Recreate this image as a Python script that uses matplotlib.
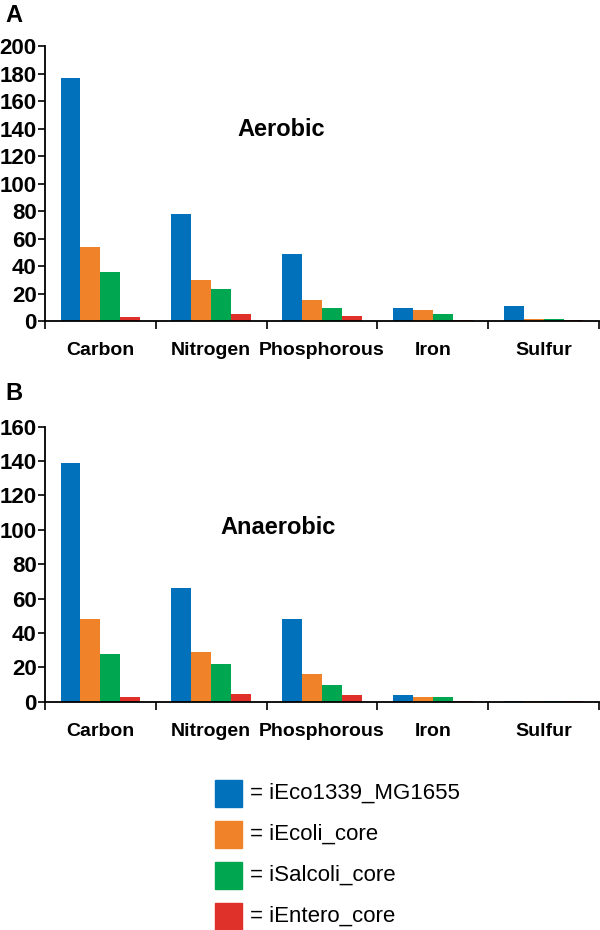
import numpy as np
import matplotlib
matplotlib.use("Agg")
import matplotlib.pyplot as plt
from matplotlib.patches import Rectangle

plt.rcParams["font.family"] = ["Liberation Sans", "DejaVu Sans"]

# ========= DATA =========
categories = ["Carbon", "Nitrogen", "Phosphorous", "Iron", "Sulfur"]
models = ["iEco1339_MG1655", "iEcoli_core", "iSalcoli_core", "iEntero_core"]
colors = ["#0071BA", "#F0832A", "#00A650", "#E0302A"]

# Aerobic (panel A)
aer_eco1339 = [177, 78, 48.5, 9.7, 10.7]
aer_ecoli = [54, 30, 15.3, 7.8, 1.6]
aer_salcoli = [35.6, 23, 9.7, 4.8, 1.5]
aer_entero = [2.8, 4.8, 3.9, 0.7, 0.7]

# Anaerobic (panel B)
ana_eco1339 = [139, 66, 48, 3.7, 0.5]
ana_ecoli = [48, 28.7, 16.1, 2.9, 0.5]
ana_salcoli = [28, 21.8, 9.9, 2.9, 0.5]
ana_entero = [2.9, 4.7, 3.7, 0.5, 0.5]

panels = [
    ("A", "Aerobic", [aer_eco1339, aer_ecoli, aer_salcoli, aer_entero], 200, 20),
    ("B", "Anaerobic", [ana_eco1339, ana_ecoli, ana_salcoli, ana_entero], 160, 20),
]

# ========= FIGURE =========
fig = plt.figure(figsize=(6, 9.3), dpi=100)

W, H = 600.0, 930.0
axes_px = [(46, 321), (426.7, 701.7)]  # top / bottom pixel rows of each axes
letter_y = [15, 393]
title_pos = [(281, 129), (278, 527)]

x = np.arange(len(categories)) + 0.5
bar_w = 0.18

for k, (letter, title, series, ymax, step) in enumerate(panels):
    top, bot = axes_px[k]
    ax = fig.add_axes([45 / W, 1 - bot / H, 554 / W, (bot - top) / H])

    for i, vals in enumerate(series):
        ax.bar(x + (i - 1.5) * bar_w, vals, width=bar_w, color=colors[i],
               edgecolor="none")

    ax.set_xlim(0, len(categories))
    ax.set_ylim(0, ymax)
    ax.set_yticks(np.arange(0, ymax + 1, step))

    # category labels at centres, tick marks at boundaries
    ax.set_xticks(x)
    ax.set_xticklabels(categories, fontsize=14, fontweight="bold")
    ax.set_xticks(np.arange(len(categories) + 1), minor=True)
    ax.tick_params(axis="x", which="major", length=0, pad=15)
    ax.tick_params(axis="x", which="minor", length=6, width=1.2, direction="out")
    ax.tick_params(axis="y", length=5, width=1.2, direction="out", pad=1,
                   labelsize=16)
    for lab in ax.get_yticklabels():
        lab.set_fontweight("bold")

    for s in ["top", "right"]:
        ax.spines[s].set_visible(False)
    for s in ["left", "bottom"]:
        ax.spines[s].set_linewidth(1.3)

    fig.text(5 / W, 1 - letter_y[k] / H, letter, fontsize=17, fontweight="bold",
             ha="left", va="center")
    tx, ty = title_pos[k]
    fig.text(tx / W, 1 - ty / H, title, fontsize=17, fontweight="bold",
             ha="center", va="center")

# ========= LEGEND =========
row_y = [793, 834, 875, 916]
for i, name in enumerate(models):
    cy = row_y[i]
    fig.patches.append(Rectangle((215 / W, 1 - (cy + 13.5) / H), 27 / W, 27 / H,
                                 transform=fig.transFigure, color=colors[i]))
    fig.text(250 / W, 1 - cy / H, "= " + name, fontsize=16, ha="left",
             va="center")

fig.savefig("out.png", dpi=100)
